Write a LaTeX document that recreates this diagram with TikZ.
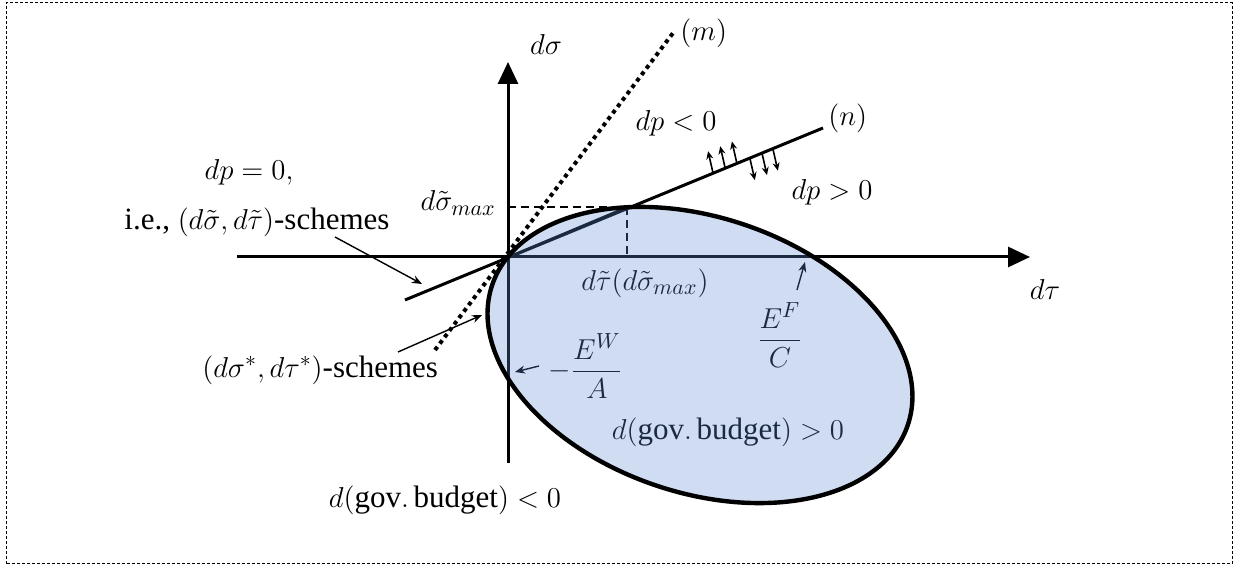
\documentclass[tikz,border=0pt]{standalone}
\usepackage{amsmath}
\usepackage{fontspec}
\setmainfont{Liberation Serif}
\definecolor{budgetblue}{RGB}{95,140,210}
\usetikzlibrary{arrows.meta,positioning,calc}

\begin{document}
\begin{tikzpicture}[x=0.5pt,y=0.5pt,
  axis/.style={line width=1.5pt,-{Triangle[length=11pt,width=10pt]}},
  curve/.style={line width=1.5pt},
  guide/.style={line width=0.9pt,dash pattern=on 4pt off 2.5pt},
  pointer/.style={line width=0.7pt,-{Stealth[length=5pt,width=4pt]}},
  tick/.style={line width=0.8pt,-{Stealth[length=4pt,width=3.5pt]}},
  lbl/.style={font=\fontsize{15.5}{18}\selectfont,inner sep=1pt}
]
  \useasboundingbox (0,0) rectangle (1236,567);
  \draw[line width=0.5pt,dash pattern=on 1.5pt off 1pt] (6,3) rectangle (1232,564);

  % Axes
  \coordinate (O) at (508,310);
  \draw[axis] (508,104) -- (508,505);
  \draw[axis] (237,310) -- (1030,310);
  \node[lbl] (ylab) at (546,522) {$d\sigma$};
  \node[lbl] (xlab) at (1045,277) {$d\tau$};

  % Lines (m) and (n)
  \coordinate (mA) at (435,217);
  \coordinate (mB) at (673,534);
  \coordinate (nA) at (405,267);
  \coordinate (nB) at (823,439);
  \draw[line width=2pt,dash pattern=on 2pt off 2pt] (mA) -- (mB);
  \draw[curve] (nA) -- (nB);
  \node[lbl,anchor=west] (mlab) at (678,534) {$(m)$};
  \node[lbl,anchor=west] (nlab) at (826,449) {$(n)$};

  % Direction of dp
  \foreach \t in {0.737,0.766,0.794}
    \draw[tick] ($(nA)!\t!(nB)$) -- ++(-5,22);
  \foreach \t in {0.825,0.854,0.880}
    \draw[tick] ($(nA)!\t!(nB)$) -- ++(5,-22);
  \node[lbl] (dpneg) at (676,444) {$dp<0$};
  \node[lbl] (dppos) at (832,375) {$dp>0$};

  % Maximum point
  \coordinate (T) at (627,360);
  \draw[guide] (O |- T) -- (T);
  \draw[guide] (T) -- (T |- O);
  \draw[line width=1pt] (O) -- (T);
  \node[lbl,anchor=east] (smax) at (498,364) {$d\tilde{\sigma}_{max}$};
  \node[lbl] (tsmax) at (645,284) {$d\tilde{\tau}(d\tilde{\sigma}_{max})$};

  % Scheme labels
  \node[lbl] (dpzero) at (249,395) {$dp=0,$};
  \node[lbl,anchor=west] (iescheme) at (122,345) {i.e., $(d\tilde{\sigma},d\tilde{\tau})$-schemes};
  \node[lbl,anchor=west] (starscheme) at (200,197) {$(d\sigma^{*},d\tau^{*})$-schemes};
  \coordinate (ietail) at (335,330);
  \coordinate (iehead) at (422,283);
  \coordinate (startail) at (398,215);
  \coordinate (starhead) at (482,252);
  \draw[pointer] (ietail) -- (iehead);
  \draw[pointer] (startail) -- (starhead);

  % Intercepts
  \node[lbl,anchor=west] (ewlab) at (546,201) {$-\dfrac{E^{W}}{A}$};
  \coordinate (ewhead) at (515,195);
  \draw[pointer] (ewlab.west) ++(-7,0) -- (ewhead);
  \node[lbl] (eflab) at (780,232) {$\dfrac{E^{F}}{C}$};
  \coordinate (efhead) at (805,305);
  \draw[pointer] (797,277) -- (efhead);

  \node[lbl] (budpos) at (728,135) {$d(\mathrm{gov.\,budget})>0$};
  \node[lbl] (budneg) at (445,67) {$d(\mathrm{gov.\,budget})<0$};

  % Budget ellipse
  \coordinate (C) at (700,212);
  \fill[budgetblue,fill opacity=0.3,rotate around={-18.6:(C)}] (C) ellipse [x radius=109.65pt,y radius=68.85pt];
  \draw[line width=2.2pt,rotate around={-18.6:(C)}] (C) ellipse [x radius=109.65pt,y radius=68.85pt];
\end{tikzpicture}
\end{document}
